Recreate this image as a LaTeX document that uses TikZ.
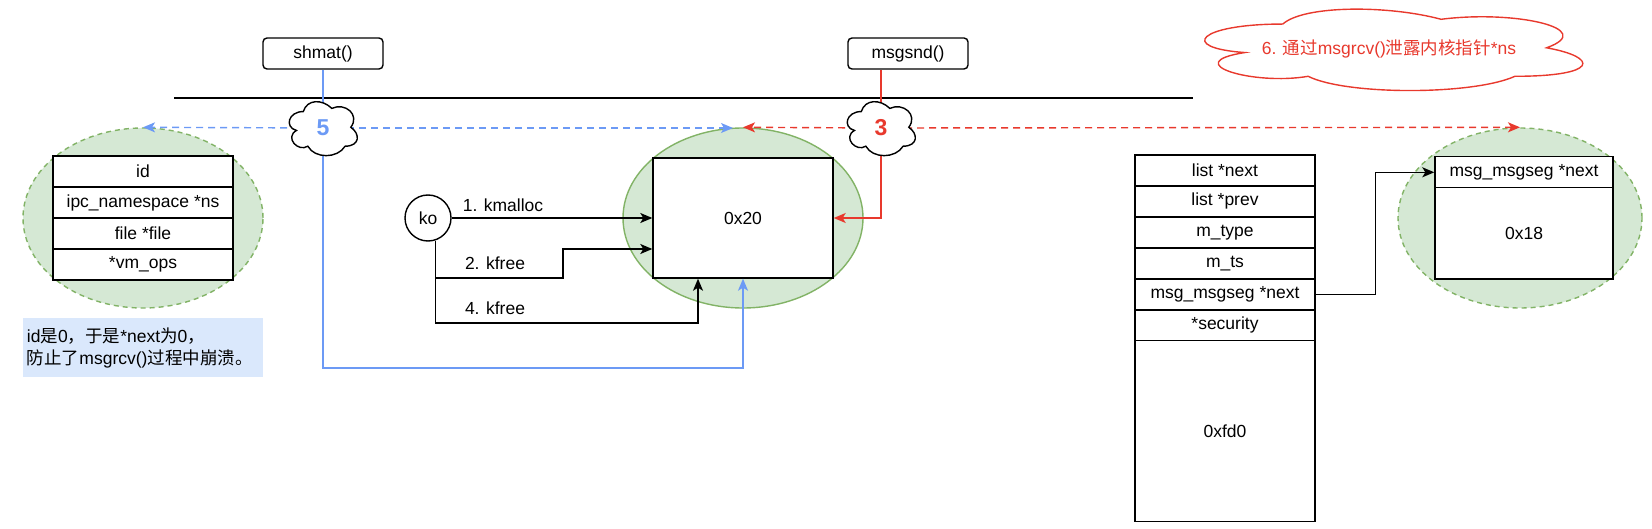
\documentclass[tikz,border=0pt]{standalone}
\usepackage{fontspec}
\setmainfont{Liberation Sans}
\newfontfamily\cjk{Noto Sans CJK SC}
\usetikzlibrary{
  matrix,
  calc,
  positioning,
  arrows.meta,
  shapes.geometric}
\definecolor{leakgreen}{HTML}{D5E8D4}
\definecolor{leakedge}{HTML}{82B366}
\definecolor{noteblue}{HTML}{DAE8FC}
\definecolor{pathblue}{HTML}{6C9AF5}
\definecolor{pathred}{HTML}{E8392D}

% cloud outline inside the box of a node: [style]{node}{width}{height}
\newcommand\cloudline[4][]{%
  \begin{scope}[shift={(#2.north west)},x=#3,y=-#4]
    \draw[fill=white,#1] (0.25,0.25) .. controls (0.05,0.25) and (0,0.5) .. (0.16,0.55)
      .. controls (0,0.66) and (0.18,0.9) .. (0.31,0.8)
      .. controls (0.4,1) and (0.7,1) .. (0.8,0.8)
      .. controls (1,0.8) and (1,0.6) .. (0.875,0.5)
      .. controls (1,0.3) and (0.8,0.1) .. (0.625,0.2)
      .. controls (0.5,0.05) and (0.3,0.05) .. (0.25,0.25) -- cycle;
  \end{scope}}

\begin{document}
\begin{tikzpicture}[
  x=1pt, y=-1pt,
  >={Stealth[length=12pt,width=10pt,inset=3pt]},
  line width=1.4pt,
  every node/.style={font=\fontsize{17.5}{22}\selectfont,inner sep=0pt},
  syscall/.style={draw,rounded corners=4pt,minimum width=120pt,minimum height=31pt},
  puffbox/.style={minimum width=76pt,minimum height=63pt},
  stepnum/.style={font=\bfseries\fontsize{23}{23}\selectfont},
  zone/.style={ellipse,fill=leakgreen,draw=leakedge,minimum width=240pt,minimum height=180pt},
  softzone/.style={zone,dash pattern=on 5pt off 4pt},
  leakline/.style={dash pattern=on 7pt off 5pt,->},
  fields/.style={matrix of nodes,row sep=-1.4pt,
    nodes={draw,fill=white,anchor=center,minimum width=180pt,minimum height=31pt}}
]%
  \useasboundingbox (0,0) rectangle (1652,529);

  \node[softzone] (shmzone) at (143,218) {};
  \node[zone] (chunkzone) at (743,218) {};
  \node[softzone,minimum width=244pt] (segzone) at (1520,218) {};

  \matrix (shmfile) [fields] at (143,218)
  {
    id \\
    ipc\_namespace *ns \\
    file *file \\
    *vm\_ops \\
  };

  \matrix (msgmsg) [fields] at (1225,338)
  {
    list *next \\
    list *prev \\
    m\_type \\
    m\_ts \\
    msg\_msgseg *next \\
    *security \\
    |[minimum height=180.4pt]| 0xfd0 \\
  };

  \matrix (msgseg) [fields,nodes={minimum width=178pt}] at (1524,218)
  {
    msg\_msgseg *next \\
    |[minimum height=91.4pt]| 0x18 \\
  };

  \node[fill=noteblue,minimum width=240pt,minimum height=59pt,text width=232pt,align=left]
    (note) at (143,347.5) {id{\cjk 是}0{\cjk ，于是}*next{\cjk 为}0{\cjk ，}\\{\cjk 防止了}msgrcv(){\cjk 过程中崩溃。}};

  \node[syscall] (shmat) at (323,53.5) {shmat()};
  \node[syscall] (msgsnd) at (908,53.5) {msgsnd()};
  \node[puffbox] (cloud5) at (323,128) {};
  \node[puffbox] (cloud3) at (881,128) {};
  \node[minimum width=422pt,minimum height=95pt] (leak) at (1389,48.5) {};

  \node[circle,draw,minimum size=46pt] (ko) at (428,218) {ko};
  \node[draw,fill=white,minimum width=180pt,minimum height=120pt] (chunk) at (743,218) {0x20};

  \node (lblA) at (503,205) {1. kmalloc};
  \node (lblB) at (495,263) {2. kfree};
  \node (lblC) at (495,308) {4. kfree};

  \coordinate (kernelW) at (174,98);
  \coordinate (kernelE) at (1193,98);
  \coordinate (bendB) at (563,278);
  \coordinate (bendC) at (698,323);
  \coordinate (bendR) at (743,368);
  \coordinate (blueTip) at (733,128);

  \draw (kernelW) -- (kernelE);

  \draw[pathblue] (shmat) -- (cloud5.center);
  \draw[pathblue,leakline] (cloud5.center) -- (shmzone.north);
  \draw[pathblue,leakline] (cloud5.center) -- (blueTip);
  \draw[pathblue,->] (cloud5.center) |- (bendR) -- (chunk.south);

  \draw[pathred] (msgsnd.south -| cloud3.center) -- (cloud3.center);
  \draw[pathred,leakline] (cloud3.center) -- (chunkzone.north);
  \draw[pathred,leakline] (cloud3.center) -- (segzone.north);
  \draw[pathred,->] (cloud3.center) |- (chunk.east);

  \draw[->] (ko) -- (chunk);
  \draw[->] (ko.-72) |- (bendB) |- ($(chunk.west)+(0,31)$);
  \draw[->] (ko.-72) |- (bendC) -- (bendC |- chunk.south);

  \draw[->] (msgmsg-5-1.east) -- ++(60,0) |- (msgseg-1-1.west);

  \cloudline{cloud5}{76pt}{63pt}
  \cloudline{cloud3}{76pt}{63pt}
  \cloudline[draw=pathred]{leak}{422pt}{95pt}
  \node[stepnum,text=pathblue] (num5) at (cloud5) {5};
  \node[stepnum,text=pathred] (num3) at (cloud3) {3};
  \node[text=pathred] (leakText) at (leak)
    {6. {\cjk 通过}msgrcv(){\cjk 泄露内核指针}*ns};
\end{tikzpicture}
\end{document}
